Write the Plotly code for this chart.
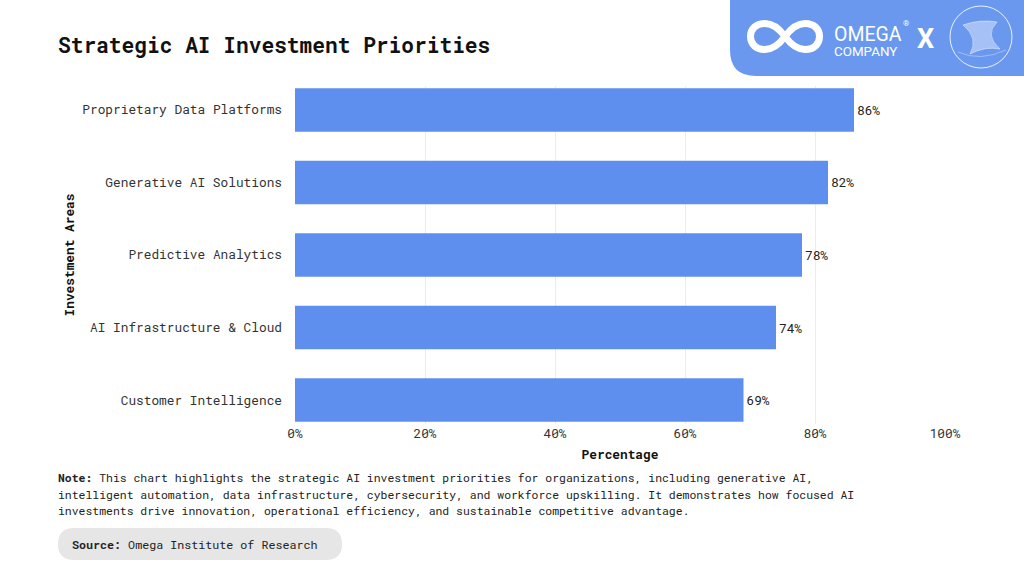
import plotly.graph_objects as go

# chart data
categories = ["Customer Intelligence", "AI Infrastructure & Cloud", "Predictive Analytics",
              "Generative AI Solutions", "Proprietary Data Platforms"]
values = [69, 74, 78, 82, 86]
tick_vals = [0, 20, 40, 60, 80, 100]
tick_text = ["0%", "20%", "40%", "60%", "80%", "100%"]

title_text = "Strategic AI Investment Priorities"
note_lines = [
    "<b>Note:</b> This chart highlights the strategic AI investment priorities for organizations, including generative AI,",
    "intelligent automation, data infrastructure, cybersecurity, and workforce upskilling. It demonstrates how focused AI",
    "investments drive innovation, operational efficiency, and sustainable competitive advantage.",
]
source_text = "<b>Source:</b> Omega Institute of Research"

W, H = 1024, 576
L, R, T, B = 295, 79, 86, 152
PW, PH = W - L - R, H - T - B
MONO = "Roboto Mono, DejaVu Sans Mono, Liberation Mono, monospace"
BLUE = "#5f8fee"


def px(x):
    return (x - L) / PW


def py(y):
    return (H - B - y) / PH


def pt(x, y):
    return f"{px(x)},{py(y)}"


fig = go.Figure()
fig.add_trace(go.Bar(
    x=values, y=categories, orientation="h",
    marker=dict(color=BLUE, line=dict(width=0)),
    width=0.6,
    text=[f"{v}%" for v in values], textposition="outside",
    textfont=dict(family=MONO, size=12.8, color="#222"),
    cliponaxis=False,
))

shapes = [
    # logo banner
    dict(type="path", xref="paper", yref="paper",
         path=(f"M {pt(730, 0)} L {pt(1024, 0)} L {pt(1024, 76)} "
               f"L {pt(756, 76)} Q {pt(730, 76)} {pt(730, 50)} Z"),
         fillcolor="#6a98ef", line=dict(width=0), layer="above"),
    # infinity mark
    dict(type="path", xref="paper", yref="paper",
         path=(f"M {pt(785, 36.5)} C {pt(792, 27)} {pt(799, 23.5)} {pt(805, 23.5)} "
               f"C {pt(814, 23.5)} {pt(819.5, 29)} {pt(819.5, 36.5)} "
               f"C {pt(819.5, 44)} {pt(814, 49.5)} {pt(805, 49.5)} "
               f"C {pt(799, 49.5)} {pt(792, 46)} {pt(785, 36.5)} "
               f"C {pt(778, 27)} {pt(771, 23.5)} {pt(765, 23.5)} "
               f"C {pt(756, 23.5)} {pt(750.5, 29)} {pt(750.5, 36.5)} "
               f"C {pt(750.5, 44)} {pt(756, 49.5)} {pt(765, 49.5)} "
               f"C {pt(771, 49.5)} {pt(778, 46)} {pt(785, 36.5)} Z"),
         fillcolor="rgba(0,0,0,0)", line=dict(color="white", width=7), layer="above"),
    # partner emblem
    dict(type="circle", xref="paper", yref="paper",
         x0=px(950), x1=px(1012), y0=py(68), y1=py(6),
         line=dict(color="rgba(255,255,255,0.85)", width=1), layer="above"),
    dict(type="path", xref="paper", yref="paper",
         path=(f"M {pt(963, 25)} Q {pt(980, 19)} {pt(997, 22)} Q {pt(984, 35)} {pt(1000, 49)} "
               f"Q {pt(985, 46)} {pt(970, 54)} Q {pt(979, 38)} {pt(963, 25)} Z"),
         fillcolor="rgba(255,255,255,0.4)", line=dict(color="rgba(255,255,255,0.75)", width=0.6),
         layer="above"),
    dict(type="path", xref="paper", yref="paper",
         path=f"M {pt(958, 52)} Q {pt(980, 62)} {pt(1006, 50)}",
         line=dict(color="rgba(255,255,255,0.6)", width=0.6), layer="above"),
    # source pill
    dict(type="path", xref="paper", yref="paper",
         path=(f"M {pt(74, 528)} L {pt(326, 528)} Q {pt(342, 528)} {pt(342, 544)} "
               f"Q {pt(342, 560)} {pt(326, 560)} L {pt(74, 560)} "
               f"Q {pt(58, 560)} {pt(58, 544)} Q {pt(58, 528)} {pt(74, 528)} Z"),
         fillcolor="#e6e6e6", line=dict(width=0)),
]


def note(x, y, text, size, family=MONO, color="#222", anchor="left", **kw):
    return dict(x=px(x), y=py(y), xref="paper", yref="paper", text=text, showarrow=False,
                xanchor=anchor, yanchor="middle", font=dict(family=family, size=size, color=color), **kw)


logo_text = ("<span style='font-size:19.5px'>OMEGA</span><br>"
             "<span style='font-size:13.4px'>COMPANY</span>")

annotations = [
    note(56, 45, f"<b>{title_text}</b>", 21.2, color="#111"),
    note(56, 477, note_lines[0], 11.45),
    note(56, 494, note_lines[1], 11.45),
    note(56, 511, note_lines[2], 11.45),
    note(70, 544, source_text, 11.7),
    # logo texts
    note(833, 41, logo_text, 11.5, family="Roboto", color="white", borderpad=0, align="left"),
    note(902, 24, "®", 8, family="Roboto", color="white", borderpad=0),
    note(925, 39, "<b>X</b>", 27, family="Roboto", color="white", anchor="center", borderpad=0),
]

fig.update_layout(
    width=W, height=H,
    margin=dict(l=L, r=R, t=T, b=B),
    paper_bgcolor="white", plot_bgcolor="white",
    showlegend=False,
    font=dict(family=MONO, size=12.8, color="#222"),
    shapes=shapes, annotations=annotations,
    xaxis=dict(range=[0, 100], tickvals=tick_vals, ticktext=tick_text,
               showgrid=True, gridcolor="#ececec", gridwidth=1, zeroline=False,
               showline=False, ticks="", tickfont=dict(size=12.8, color="#333"),
               title=dict(text="<b>Percentage</b>", font=dict(size=12.8, color="#111"), standoff=10)),
    yaxis=dict(categoryorder="array", categoryarray=categories, range=[-0.33, 4.33],
               showgrid=False, zeroline=False, showline=False, ticks="",
               ticklabelstandoff=12, tickfont=dict(size=12.8, color="#333"),
               title=dict(text="<b>Investment Areas</b>", font=dict(size=12.8, color="#111"), standoff=4)),
    bargap=0.4,
)

fig.write_html("out.html", config={"displayModeBar": False},
               post_script="document.body.style.margin='0';")
